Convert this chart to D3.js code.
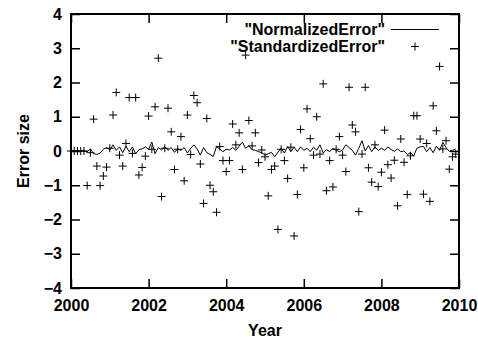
<!DOCTYPE html>
<html>
<head>
<meta charset="utf-8">
<script src="https://cdn.jsdelivr.net/npm/d3@7"></script>
<style>
  body { margin: 0; background: #fff; }
  text { font-family: "Liberation Sans", Arial, sans-serif; font-weight: bold; font-size: 16px; fill: #000; }
</style>
</head>
<body>
<svg id="chart" width="478" height="341"></svg>
<script>
// data: monthly values, Jan 2000 .. Dec 2009
const startYear = 2000;
const xTicks = [2000, 2002, 2004, 2006, 2008, 2010];
const yTicks = [-4, -3, -2, -1, 0, 1, 2, 3, 4];

const normalizedError = [
  0, 0, 0, 0, 0, -0.02, 0.06, -0.08, -0.1, -0.06, 0.05, 0.1,
  0.03, 0.18, 0.02, 0.12, -0.05, 0.14, -0.02, 0.12, -0.08, 0.04, 0.06, 0.12,
  0.05, 0.26, -0.08, 0.1, 0.03, 0.12, 0.02, 0.1, -0.04, 0.06, 0.02, 0.1,
  -0.06, 0.08, 0.18, 0.06, -0.12, 0.1, -0.05, -0.1, -0.16, 0.13, 0.06, -0.02,
  0.05, 0.03, 0.1, 0.02, 0.14, 0.26, 0.08, 0.15, 0.04, 0.02, -0.02, -0.05,
  -0.12, -0.08, -0.04, -0.17, -0.03, 0.08, -0.06, 0.13, -0.02, 0.11, -0.02, 0.12,
  0.02, 0.08, -0.02, 0.11, 0.02, 0.18, -0.06, 0.04, -0.02, 0.08, 0.02, -0.02,
  0.03, 0.18, 0.1, 0.02, -0.12, 0.08, 0.3, 0.0, 0.16, -0.02, 0.12, 0.02,
  0.08, 0.02, 0.12, 0.04, -0.01, 0.06, -0.02, 0.0, -0.1, -0.05, -0.14, 0.08,
  0.12, 0.14, -0.02, 0.1, -0.05, 0.14, 0.02, 0.25, 0.1, -0.01, 0.02, 0.06
];

const standardizedError = [
  0, 0, 0, 0, 0, -1.01, -0.05, 0.93, -0.44, -1.01, -0.73, -0.47,
  0.08, 1.05, 1.71, -0.12, -0.44, 0.22, 1.56, -0.07, 1.56, -0.70, -0.48, -0.15,
  1.02, 0.05, 1.29, 2.71, -1.33, 0.08, 1.25, 0.56, -0.54, 0.05, 0.42, -0.87,
  1.05, -0.10, 1.62, 1.41, -0.38, -1.53, 0.95, -1.00, -1.19, -1.79, 0.13, -0.28,
  -0.60, -0.28, 0.79, 0.18, 0.53, -0.54, 2.80, 0.89, 0.15, 0.53, -0.34, 0.03,
  -0.17, -1.31, -0.54, -0.44, -2.29, 0.05, -0.28, -0.80, 0.11, -2.48, -1.27, 0.63,
  -0.49, 1.23, 0.36, -0.12, 1.00, -0.09, 1.96, -1.16, -0.28, -1.05, 0.05, 0.42,
  -0.12, -0.60, 1.86, 0.76, 0.56, -1.77, -0.09, 1.86, -0.49, -0.91, 0.18, -1.04,
  -0.62, 0.61, -0.40, -0.79, -0.27, -1.60, 0.35, -0.33, -1.27, -0.14, 1.03, 1.03,
  0.35, -1.26, 0.22, -1.47, 1.32, 0.59, 2.47, 0.06, 0.30, -0.53, -0.17, -0.09
];

const svg = d3.select('#chart');
const plot = { left: 71, right: 459, top: 14, bottom: 288 };

const x = d3.scaleLinear().domain([2000, 2010]).range([plot.left, plot.right]);
const y = d3.scaleLinear().domain([-4, 4]).range([plot.bottom, plot.top]);
const yearOf = i => startYear + i / 12;

// axes (ticks inward, mirrored on top/right)
const gx = svg.append('g').attr('transform', `translate(0,${plot.bottom})`)
  .call(d3.axisBottom(x).tickValues(xTicks).tickFormat(d3.format('d')).tickSizeInner(-9).tickSizeOuter(0).tickPadding(12));
const gy = svg.append('g').attr('transform', `translate(${plot.left},0)`)
  .call(d3.axisLeft(y).tickValues(yTicks).tickSizeInner(-9).tickSizeOuter(0).tickPadding(9));
const gt = svg.append('g').attr('transform', `translate(0,${plot.top})`)
  .call(d3.axisTop(x).tickValues(xTicks).tickFormat('').tickSizeInner(-9).tickSizeOuter(0));
const gr = svg.append('g').attr('transform', `translate(${plot.right},0)`)
  .call(d3.axisRight(y).tickValues(yTicks).tickFormat('').tickSizeInner(-9).tickSizeOuter(0));

[gx, gy, gt, gr].forEach(g => {
  g.select('.domain').remove();
  g.selectAll('.tick line').attr('stroke', '#000').attr('stroke-width', 1.5);
  g.attr('font-size', null).attr('font-family', null);
});

// frame
svg.append('rect')
  .attr('x', plot.left).attr('y', plot.top)
  .attr('width', plot.right - plot.left).attr('height', plot.bottom - plot.top)
  .attr('fill', 'none').attr('stroke', '#000').attr('stroke-width', 2);

// NormalizedError line
const line = d3.line()
  .x((d, i) => x(yearOf(i)))
  .y(d => y(d));

svg.append('path')
  .datum(normalizedError)
  .attr('d', line)
  .attr('fill', 'none')
  .attr('stroke', '#000')
  .attr('stroke-width', 1);

// StandardizedError points
const plus = 'M-4,0h8M0,-4v8';
svg.append('g').selectAll('path')
  .data(standardizedError)
  .join('path')
  .attr('transform', (d, i) => `translate(${x(yearOf(i))},${y(d)})`)
  .attr('d', plus)
  .attr('fill', 'none')
  .attr('stroke', '#000')
  .attr('stroke-width', 1);

// legend
const legend = svg.append('g');
legend.append('text').attr('x', 385).attr('y', 35).attr('text-anchor', 'end').text('"NormalizedError"');
legend.append('line').attr('x1', 391).attr('x2', 439).attr('y1', 29.5).attr('y2', 29.5)
  .attr('stroke', '#000').attr('stroke-width', 1);
legend.append('text').attr('x', 385).attr('y', 52).attr('text-anchor', 'end').text('"StandardizedError"');
legend.append('path').attr('transform', 'translate(415,46.5)').attr('d', plus)
  .attr('stroke', '#000').attr('stroke-width', 1);

// axis titles
svg.append('text').attr('x', (plot.left + plot.right) / 2).attr('y', 336).attr('text-anchor', 'middle').text('Year');
svg.append('text').attr('transform', `translate(29,${(plot.top + plot.bottom) / 2}) rotate(-90)`)
  .attr('text-anchor', 'middle').text('Error size');
</script>
</body>
</html>
